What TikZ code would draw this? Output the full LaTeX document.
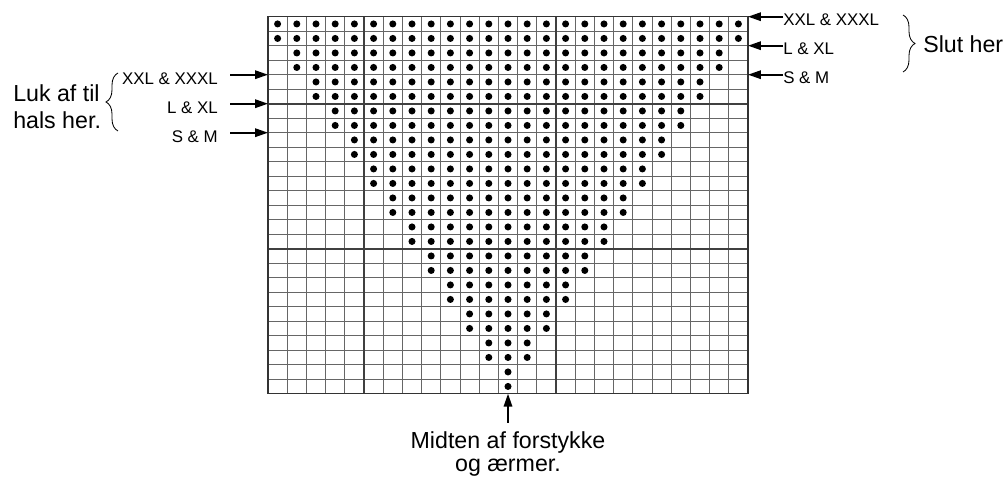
\documentclass[tikz,border=0pt]{standalone}
\usepackage{fontspec}
\setmainfont{Liberation Sans}
\usetikzlibrary{arrows.meta,decorations.pathreplacing}

\tikzset{
  gridline/.style={black!60,line width=0.6pt},
  tenline/.style={black!75,line width=1.3pt},
  rimline/.style={black!80,line width=0.8pt},
  stitch/.style={fill=black},
  sizelabel/.style={font=\fontsize{12}{14}\selectfont,inner ysep=0pt},
  note/.style={font=\fontsize{16.5}{19.2}\selectfont,inner sep=0pt},
  pointer/.style={line width=1.2pt,-{Triangle[length=0.32cm,width=0.21cm]}},
  curly/.style={decorate,decoration={brace,amplitude=0.3cm},line width=0.6pt},
}

\begin{document}
\begin{tikzpicture}
\useasboundingbox (0.000,0.000) rectangle (25.200,-12.050);
% chart, one unit = one stitch
\begin{scope}[xshift=6.700cm,yshift=-0.4175cm,x=0.48cm,y=-0.3625cm]
\foreach \c in {0,...,25} \draw[gridline] (\c,0) -- (\c,26);
\foreach \r in {0,...,26} \draw[gridline] (0,\r) -- (25,\r);
\draw[tenline] (5,0) -- (5,26);
\draw[tenline] (15,0) -- (15,26);
\draw[tenline] (0,6) -- (25,6);
\draw[tenline] (0,16) -- (25,16);
\draw[rimline] (0,0) rectangle (25,26);
\foreach \r in {0,...,25}{
  \pgfmathtruncatemacro\k{\r/2}
  \pgfmathtruncatemacro\m{24-\k}
  \foreach \c in {\k,...,\m}
    \fill[stitch] (\c+0.5,\r+0.5) circle (0.088cm);
}
\coordinate (r0) at (25,0);
\coordinate (r2) at (25,2);
\coordinate (r4) at (25,4);
\coordinate (l4) at (0,4);
\coordinate (l6) at (0,6);
\coordinate (l8) at (0,8);
\coordinate (mid) at (12.5,26);
\end{scope}
% right side
\node[sizelabel,inner xsep=0pt,anchor=west] (xxlR) at (19.575,-0.4975) {XXL \& XXXL};
\node[sizelabel,inner xsep=0pt,anchor=west] (lxlR) at (19.575,-1.2225) {L \& XL};
\node[sizelabel,inner xsep=0pt,anchor=west] (smR) at (19.575,-1.9475) {S \& M};
\draw[pointer] (xxlR.west |- r0) -- (r0);
\draw[pointer] (lxlR.west |- r2) -- (r2);
\draw[pointer] (smR.west |- r4) -- (r4);
\draw[curly] (22.575,-0.375) -- (22.575,-1.800);
\node[note,anchor=west] (slut) at (23.075,-1.100) {Slut her};
% left side
\node[sizelabel,inner xsep=0.3cm,anchor=east] (xxlL) at (5.750,-1.9675) {XXL \& XXXL};
\node[sizelabel,inner xsep=0.3cm,anchor=east] (lxlL) at (5.750,-2.6925) {L \& XL};
\node[sizelabel,inner xsep=0.3cm,anchor=east] (smL) at (5.750,-3.4175) {S \& M};
\draw[pointer] (xxlL.east |- l4) -- (l4);
\draw[pointer] (lxlL.east |- l6) -- (l6);
\draw[pointer] (smL.east |- l8) -- (l8);
\draw[curly] (2.950,-3.275) -- (2.950,-1.825);
\node[note,align=left,anchor=west] (luk) at (0.325,-2.660) {Luk af til\\hals her.};
% bottom
\node[note,inner ysep=0.2cm,align=center,anchor=north,font=\fontsize{16.5}{17}\selectfont] (midten) at (12.700,-10.575) {Midten af forstykke\\og ærmer.};
\draw[pointer] (midten.north) -- (mid);
\end{tikzpicture}
\end{document}
